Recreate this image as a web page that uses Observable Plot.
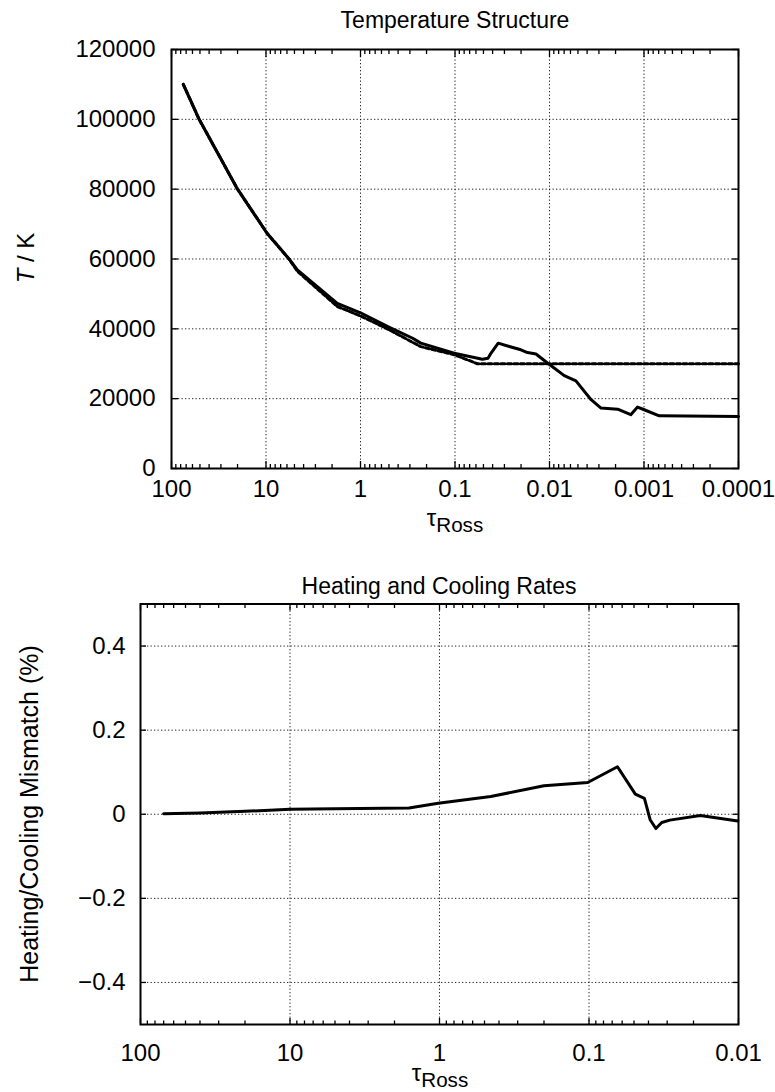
<!DOCTYPE html>
<html>
<head>
<meta charset="utf-8">
<script src="https://cdn.jsdelivr.net/npm/d3@7"></script>
<script src="https://cdn.jsdelivr.net/npm/@observablehq/plot@0.6"></script>
<style>
  body { margin: 0; background: #fff; }
  #wrap { position: relative; width: 775px; height: 1092px; overflow: hidden;
          font-family: "Liberation Sans", Arial, Helvetica, sans-serif; color: #000; }
  .pl { position: absolute; left: 0; }
  .t { position: absolute; white-space: nowrap; line-height: 1; }
  .c { transform: translateX(-50%); }
  .r { transform: translate(-50%, -50%) rotate(-90deg); }
  sub { font-size: 0.86em; vertical-align: -0.3em; line-height: 0; }
</style>
</head>
<body>
<div id="wrap">
  <div class="t c" style="left:455px; top:9px; font-size:23px;">Temperature Structure</div>
  <div class="t r" style="left:26px; top:258px; font-size:24px;"><i>T</i> / K</div>
  <div class="t c" style="left:455px; top:506px; font-size:24px;">τ<sub>Ross</sub></div>

  <div class="t c" style="left:439px; top:575px; font-size:23px;">Heating and Cooling Rates</div>
  <div class="t r" style="left:29px; top:814px; font-size:25px;">Heating/Cooling Mismatch (%)</div>
  <div class="t c" style="left:440px; top:1061px; font-size:24px;">τ<sub>Ross</sub></div>
</div>
<script>
// ---- Top panel: temperature structure ----
const tauModel  = [75, 51, 31.5, 20, 9.7, 5.7, 4.66, 1.76, 1.0, 0.52, 0.28, 0.23, 0.102, 0.0513, 0.0447, 0.0417, 0.0349, 0.0278, 0.0201, 0.0171, 0.0139, 0.0105, 0.00698, 0.00525, 0.00363, 0.00285, 0.0019, 0.00138, 0.00117, 0.00101, 0.00069, 0.0001];
const tempModel = [110000, 100000, 89700, 80000, 67300, 60000, 56900, 47300, 44600, 40700, 37300, 35900, 33000, 31300, 31600, 33000, 35900, 35100, 34000, 33200, 32800, 30200, 26600, 25100, 19700, 17300, 17000, 15400, 17600, 16900, 15100, 14900];

const tauGrey  = [75, 51, 31.5, 20, 9.7, 5.7, 4.66, 1.76, 1.0, 0.52, 0.23, 0.102, 0.058, 0.0001];
const tempGrey = [110000, 100000, 89700, 80000, 67300, 60000, 56500, 46400, 43700, 40000, 34900, 32600, 30000, 30000];

const xTicksTop = [100, 10, 1, 0.1, 0.01, 0.001, 0.0001];
const xTickLabelsTop = ["100", "10", "1", "0.1", "0.01", "0.001", "0.0001"];
const yTicksTop = [0, 20000, 40000, 60000, 80000, 100000, 120000];
const yTickLabelsTop = ["0", "20000", "40000", "60000", "80000", "100000", "120000"];

// ---- Bottom panel: heating / cooling mismatch ----
const tauRate  = [70, 40, 20, 10, 5, 1.6, 1.02, 0.454, 0.2, 0.102, 0.0645, 0.049, 0.0426, 0.039, 0.0357, 0.0326, 0.0288, 0.018, 0.0101];
const mismatch = [0.001, 0.003, 0.007, 0.012, 0.013, 0.015, 0.026, 0.042, 0.068, 0.0755, 0.113, 0.048, 0.038, -0.013, -0.034, -0.0195, -0.014, -0.003, -0.016];

const xTicksBottom = [100, 10, 1, 0.1, 0.01];
const xTickLabelsBottom = ["100", "10", "1", "0.1", "0.01"];
const yTicksBottom = [-0.4, -0.2, 0, 0.2, 0.4];
const yTickLabelsBottom = ["\u22120.4", "\u22120.2", "0", "0.2", "0.4"];

// minor log ticks (2..9 within each decade)
function minorTicks(majors) {
  const out = [];
  for (let i = 0; i < majors.length - 1; i++) {
    const lo = Math.min(majors[i], majors[i + 1]);
    for (let k = 2; k <= 9; k++) out.push(lo * k);
  }
  return out;
}

const modelRows = tauModel.map((t, i) => ({tau: t, T: tempModel[i]}));
const greyRows = tauGrey.map((t, i) => ({tau: t, T: tempGrey[i]}));
const rateRows = tauRate.map((t, i) => ({tau: t, v: mismatch[i]}));

const baseStyle = {fontFamily: '"Liberation Sans", Arial, Helvetica, sans-serif', fontSize: "24px", background: "transparent", overflow: "visible", color: "#000"};
const gridOpts = {stroke: "#000", strokeOpacity: 0.85, strokeWidth: 1, strokeDasharray: "1.3,2.2"};

function lab(ticks, labels) { return d => labels[ticks.indexOf(d)]; }

function frameTicks(xMaj, xMin, yMaj, major, minor) {
  const none = () => "";
  return [
    Plot.axisX(xMaj, {anchor: "bottom", tickSize: -major, tickFormat: none, strokeWidth: 1.3, label: null}),
    Plot.axisX(xMaj, {anchor: "top", tickSize: -major, tickFormat: none, strokeWidth: 1.3, label: null}),
    Plot.axisX(xMin, {anchor: "bottom", tickSize: -minor, tickFormat: none, strokeWidth: 1.3, label: null}),
    Plot.axisX(xMin, {anchor: "top", tickSize: -minor, tickFormat: none, strokeWidth: 1.3, label: null}),
    Plot.axisY(yMaj, {anchor: "left", tickSize: -major, tickFormat: none, strokeWidth: 1.3, label: null}),
    Plot.axisY(yMaj, {anchor: "right", tickSize: -major, tickFormat: none, strokeWidth: 1.3, label: null})
  ];
}

const plotTop = Plot.plot({
  width: 775, height: 540,
  marginTop: 49, marginBottom: 72, marginLeft: 171, marginRight: 37,
  style: baseStyle,
  x: {type: "log", domain: [100, 0.0001]},
  y: {domain: [0, 120000]},
  marks: [
    Plot.gridX(xTicksTop.slice(1, -1), gridOpts),
    Plot.gridY(yTicksTop.slice(1, -1), gridOpts),
    ...frameTicks(xTicksTop, minorTicks(xTicksTop), yTicksTop, 7, 4),
    Plot.axisX(xTicksTop, {anchor: "bottom", tickSize: 0, tickPadding: 11, fontSize: 24, tickFormat: lab(xTicksTop, xTickLabelsTop), label: null}),
    Plot.axisY(yTicksTop, {anchor: "left", tickSize: 0, tickPadding: 16, fontSize: 24, tickFormat: lab(yTicksTop, yTickLabelsTop), label: null}),
    Plot.line(greyRows, {x: "tau", y: "T", stroke: "#000", strokeWidth: 3, strokeDasharray: "4,2.5"}),
    Plot.line(modelRows, {x: "tau", y: "T", stroke: "#000", strokeWidth: 3}),
    Plot.frame({stroke: "#000", strokeWidth: 2})
  ]
});
plotTop.classList.add("pl");
plotTop.style.top = "0px";

const plotBottom = Plot.plot({
  width: 775, height: 552,
  marginTop: 63.5, marginBottom: 68, marginLeft: 140, marginRight: 37,
  style: baseStyle,
  x: {type: "log", domain: [100, 0.01]},
  y: {domain: [-0.5, 0.5]},
  marks: [
    Plot.gridX(xTicksBottom.slice(1, -1), gridOpts),
    Plot.gridY(yTicksBottom, gridOpts),
    ...frameTicks(xTicksBottom, minorTicks(xTicksBottom), yTicksBottom, 6, 3.5),
    Plot.axisX(xTicksBottom, {anchor: "bottom", tickSize: 0, tickPadding: 19, fontSize: 24, tickFormat: lab(xTicksBottom, xTickLabelsBottom), label: null}),
    Plot.axisY(yTicksBottom, {anchor: "left", tickSize: 0, tickPadding: 15, fontSize: 24, tickFormat: lab(yTicksBottom, yTickLabelsBottom), label: null}),
    Plot.line(rateRows, {x: "tau", y: "v", stroke: "#000", strokeWidth: 3}),
    Plot.frame({stroke: "#000", strokeWidth: 2})
  ]
});
plotBottom.classList.add("pl");
plotBottom.style.top = "540px";

const wrap = document.getElementById("wrap");
wrap.appendChild(plotTop);
wrap.appendChild(plotBottom);
</script>
</body>
</html>
